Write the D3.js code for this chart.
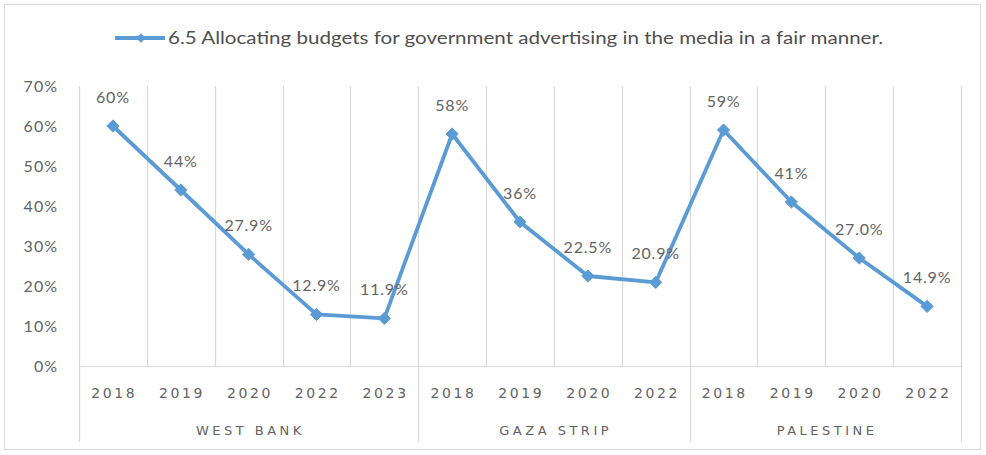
<!DOCTYPE html>
<html>
<head>
<meta charset="utf-8">
<script src="https://cdn.jsdelivr.net/npm/d3@7"></script>
<style>
  html, body { margin: 0; padding: 0; background: #fff; }
  svg { display: block; }
</style>
</head>
<body>
<svg id="chart" width="986" height="455"></svg>
<script>
// Survey indicator 6.5, share by region and year
const seriesName = "6.5 Allocating budgets for government advertising in the media in a fair manner.";
const regions = ["WEST BANK", "GAZA STRIP", "PALESTINE"];
const years = [
  ["2018", "2019", "2020", "2022", "2023"],
  ["2018", "2019", "2020", "2022"],
  ["2018", "2019", "2020", "2022"]
];
const values = [
  [60, 44, 27.9, 12.9, 11.9],
  [58, 36, 22.5, 20.9],
  [59, 41, 27.0, 14.9]
];
const labels = [
  ["60%", "44%", "27.9%", "12.9%", "11.9%"],
  ["58%", "36%", "22.5%", "20.9%"],
  ["59%", "41%", "27.0%", "14.9%"]
];
const yTicks = [0, 10, 20, 30, 40, 50, 60, 70];

// flatten into one row per category slot
const rows = [];
regions.forEach((r, gi) => {
  years[gi].forEach((yr, i) => {
    rows.push({ key: r + "|" + yr, region: r, year: yr, value: values[gi][i], label: labels[gi][i] });
  });
});

const svg = d3.select("#chart");
const plotL = 79, plotR = 961, plotT = 86, plotB = 366;
const blue = "#5b9bd5", grid = "#d9d9d9", textCol = "#636363";

// outer chart frame
svg.append("rect").attr("x", 4.5).attr("y", 4.5).attr("width", 976).attr("height", 445)
  .attr("fill", "#fff").attr("stroke", grid).attr("stroke-width", 1);

const x = d3.scaleBand().domain(rows.map(d => d.key)).range([plotL, plotR]).paddingInner(0).paddingOuter(0);
const y = d3.scaleLinear().domain([0, 70]).range([plotB, plotT]);

// vertical gridlines at category boundaries
const bounds = rows.map(d => x(d.key)).concat([plotR]);
svg.append("g").selectAll("line").data(bounds).join("line")
  .attr("x1", d => Math.round(d) + 0.5).attr("x2", d => Math.round(d) + 0.5)
  .attr("y1", plotT).attr("y2", plotB)
  .attr("stroke", grid).attr("stroke-width", 1.2);

// y axis labels
const yAxis = d3.axisLeft(y).tickValues(yTicks).tickFormat(d => d + "%").tickSize(0).tickPadding(0);
const gy = svg.append("g").attr("transform", `translate(${plotL - 21},0)`).call(yAxis);
gy.select(".domain").remove();
gy.selectAll("text").attr("font-family", "Lato, 'Open Sans', sans-serif").attr("font-size", 16)
  .attr("letter-spacing", "1px").attr("fill", textCol).attr("dy", "0.35em");

// category axis: baseline, year labels
const xAxis = d3.axisBottom(x).tickFormat(k => k.split("|")[1]).tickSize(0).tickPadding(0);
const gx = svg.append("g").attr("transform", `translate(0,${plotB})`).call(xAxis);
gx.select(".domain").attr("stroke", grid).attr("stroke-width", 1.2);
gx.selectAll("text").attr("font-family", "'DejaVu Sans', sans-serif").attr("font-size", 14)
  .attr("letter-spacing", "2.6px").attr("fill", textCol).attr("dy", "0").attr("y", 32)
  .attr("dx", "1.3px");

// region separators and region labels
const groupEdges = [];
let idx = 0;
regions.forEach((r, gi) => {
  const first = rows[idx].key, last = rows[idx + years[gi].length - 1].key;
  groupEdges.push({ region: r, x0: x(first), x1: x(last) + x.bandwidth() });
  idx += years[gi].length;
});
const sepX = [plotL].concat(groupEdges.map(g => g.x1));
svg.append("g").selectAll("line").data(sepX).join("line")
  .attr("x1", d => Math.round(d) + 0.5).attr("x2", d => Math.round(d) + 0.5)
  .attr("y1", plotB).attr("y2", 442)
  .attr("stroke", grid).attr("stroke-width", 1.2);
svg.append("g").selectAll("text").data(groupEdges).join("text")
  .attr("x", g => (g.x0 + g.x1) / 2 + 1.75).attr("y", 435)
  .attr("text-anchor", "middle")
  .attr("font-family", "'DejaVu Sans', sans-serif").attr("font-size", 13)
  .attr("letter-spacing", "3.5px").attr("fill", textCol)
  .text(g => g.region);

// series line
const cx = d => x(d.key) + x.bandwidth() / 2;
const line = d3.line().x(cx).y(d => y(d.value));
svg.append("path").datum(rows).attr("d", line)
  .attr("fill", "none").attr("stroke", blue).attr("stroke-width", 3.8)
  .attr("stroke-linejoin", "round").attr("stroke-linecap", "round");

// diamond markers
const diamond = d3.symbol().type(d3.symbolDiamond2).size(95);
svg.append("g").selectAll("path").data(rows).join("path")
  .attr("d", diamond)
  .attr("transform", d => `translate(${cx(d)},${y(d.value)})`)
  .attr("fill", blue).attr("stroke", blue).attr("stroke-width", 1);

// data labels
svg.append("g").selectAll("text").data(rows).join("text")
  .attr("x", d => cx(d)).attr("y", d => y(d.value) - 23)
  .attr("text-anchor", "middle")
  .attr("font-family", "Lato, 'Open Sans', sans-serif").attr("font-size", 16)
  .attr("letter-spacing", "0.8px").attr("fill", textCol)
  .text(d => d.label);

// legend
const lg = svg.append("g");
lg.append("line").attr("x1", 115).attr("x2", 165).attr("y1", 38).attr("y2", 38)
  .attr("stroke", blue).attr("stroke-width", 3.8);
lg.append("path").attr("d", d3.symbol().type(d3.symbolDiamond2).size(55))
  .attr("transform", "translate(141,38)").attr("fill", blue);
lg.append("text").attr("x", 168).attr("y", 44)
  .attr("font-family", "Lato, 'Open Sans', sans-serif").attr("font-size", 17)
  .attr("fill", "#4f4f4f")
  .attr("textLength", 715).attr("lengthAdjust", "spacingAndGlyphs")
  .text(seriesName);
</script>
</body>
</html>
